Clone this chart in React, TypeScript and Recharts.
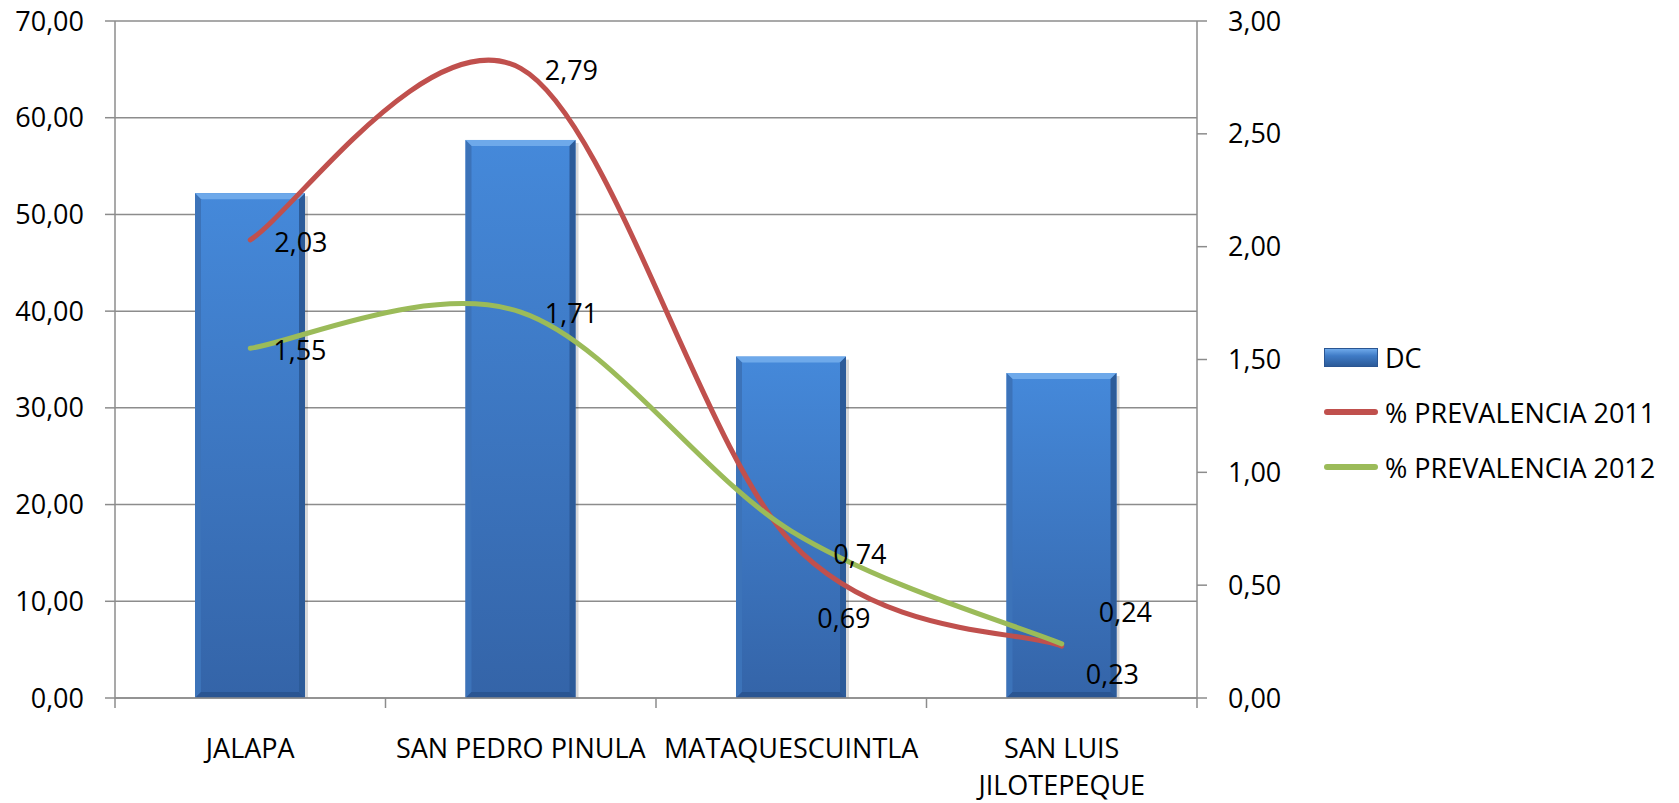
import { ComposedChart, Bar, Line, XAxis, YAxis, CartesianGrid, Legend } from "recharts";

const categories = ["JALAPA", "SAN PEDRO PINULA", "MATAQUESCUINTLA", "SAN LUIS JILOTEPEQUE"];
const tickLines = [["JALAPA"], ["SAN PEDRO PINULA"], ["MATAQUESCUINTLA"], ["SAN LUIS", "JILOTEPEQUE"]];
const dcValues = [52.2, 57.7, 35.3, 33.6];
const prev2011 = [2.03, 2.79, 0.69, 0.23];
const prev2012 = [1.55, 1.71, 0.74, 0.24];
const leftTicks = [0, 10, 20, 30, 40, 50, 60, 70];
const rightTicks = [0, 0.5, 1, 1.5, 2, 2.5, 3];

const seriesNames = ["DC", "% PREVALENCIA 2011", "% PREVALENCIA 2012"];
const RED = "#c0504d";
const GREEN = "#9bbb59";
const GRID = "#8c8c8c";
const FONT = "'Open Sans', sans-serif";

// label nudges (px) per point, as placed in the original
const labelOffsets2011 = [[24, 2], [24, 2], [26, 76], [24, 28]];
const labelOffsets2012 = [[23, 2], [24, 1], [42, 23], [37, -32]];

const data = categories.map((c, i) => ({
  name: c,
  dc: dcValues[i],
  p2011: prev2011[i],
  p2012: prev2012[i],
}));

const fmt = (v: number) => v.toFixed(2).replace(".", ",");

// Excel-like smoothed line (Catmull-Rom style bezier)
const excelCurve: any = (context: any) => {
  let pts: number[][] = [];
  return {
    areaStart() {},
    areaEnd() {},
    lineStart() {
      pts = [];
    },
    point(x: number, y: number) {
      pts.push([+x, +y]);
    },
    lineEnd() {
      const n = pts.length;
      if (!n) return;
      context.moveTo(pts[0][0], pts[0][1]);
      for (let i = 0; i < n - 1; i++) {
        const p0 = pts[Math.max(i - 1, 0)];
        const p1 = pts[i];
        const p2 = pts[i + 1];
        const p3 = pts[Math.min(i + 2, n - 1)];
        context.bezierCurveTo(
          p1[0] + (p2[0] - p0[0]) / 6,
          p1[1] + (p2[1] - p0[1]) / 6,
          p2[0] - (p3[0] - p1[0]) / 6,
          p2[1] - (p3[1] - p1[1]) / 6,
          p2[0],
          p2[1]
        );
      }
    },
  };
};

const BevelBar = (props: any) => {
  const { x, y, width: w, height: h, index } = props;
  if (!h || h <= 0) return null;
  const id = `dcGrad${index}`;
  const b = 6;
  return (
    <g>
      <defs>
        <linearGradient id={id} x1="0" y1="0" x2="0" y2="1">
          <stop offset="0%" stopColor="#4589da" />
          <stop offset="100%" stopColor="#3464a8" />
        </linearGradient>
      </defs>
      <rect x={x + 3} y={y + 3} width={w} height={h - 3} fill="rgba(0,0,0,0.15)" />
      <rect x={x} y={y} width={w} height={h} fill={`url(#${id})`} />
      <polygon points={`${x},${y} ${x + w},${y} ${x + w - b},${y + b} ${x + b},${y + b}`} fill="#6ea9ea" />
      <polygon points={`${x},${y} ${x + b},${y + b} ${x + b},${y + h - b} ${x},${y + h}`} fill="#3c73b9" />
      <polygon points={`${x + w},${y} ${x + w - b},${y + b} ${x + w - b},${y + h - b} ${x + w},${y + h}`} fill="#2c5b99" />
      <polygon points={`${x},${y + h} ${x + b},${y + h - b} ${x + w - b},${y + h - b} ${x + w},${y + h}`} fill="#2a5592" />
    </g>
  );
};

const makeLabel = (offsets: number[][]) => (props: any) => {
  const { x, y, value, index } = props;
  const [dx, dy] = offsets[index] || [24, 0];
  return (
    <text x={x + dx} y={y + dy} dy="0.36em" fontSize={27} fontFamily={FONT} fill="#000" textAnchor="start">
      {fmt(value)}
    </text>
  );
};

const PLOT_LEFT = 115;
const PLOT_RIGHT = 1197;
const BAND = (PLOT_RIGHT - PLOT_LEFT) / categories.length;

const CategoryTick = (props: any) => {
  const { x, y, index } = props;
  const lines = tickLines[index] || [];
  const last = index === categories.length - 1;
  return (
    <g>
      <line x1={x - BAND / 2} y1={y} x2={x - BAND / 2} y2={y + 10} stroke={GRID} strokeWidth={1.5} />
      {last && <line x1={x + BAND / 2} y1={y} x2={x + BAND / 2} y2={y + 10} stroke={GRID} strokeWidth={1.5} />}
      {lines.map((l, i) => (
        <text key={l} x={x} y={y + 60 + i * 37} textAnchor="middle" fontSize={27} fontFamily={FONT} fill="#000">
          {l}
        </text>
      ))}
    </g>
  );
};

const legendIcons = [
  <div key="dc" style={{ width: 54, height: 19, background: "linear-gradient(#6ea9ea, #3f7bc6 40%, #2c5b99)", border: "1px solid #2a5592", boxSizing: "border-box" }} />,
  <div key="r" style={{ width: 54, height: 6, borderRadius: 3, background: RED }} />,
  <div key="g" style={{ width: 54, height: 6, borderRadius: 3, background: GREEN }} />,
];

const CustomLegend = () => (
  <div style={{ fontFamily: FONT, fontSize: 27, color: "#000" }}>
    {seriesNames.map((n, i) => (
      <div key={n} style={{ display: "flex", alignItems: "center", height: 40, marginBottom: 15 }}>
        <div style={{ width: 61, display: "flex", alignItems: "center" }}>{legendIcons[i]}</div>
        <span style={{ whiteSpace: "nowrap" }}>{n}</span>
      </div>
    ))}
  </div>
);

export default function App() {
  return (
    <div style={{ position: "absolute", left: 0, top: 0, width: 1679, height: 803, background: "#fff" }}>
      <ComposedChart
        width={1679}
        height={803}
        data={data}
        margin={{ top: 21, right: 362, bottom: 0, left: 0 }}
        barSize={110}
        style={{ fontFamily: FONT }}
      >
        <CartesianGrid vertical={false} stroke={GRID} strokeWidth={1.5} yAxisId="l" />
        <XAxis
          dataKey="name"
          height={105}
          axisLine={{ stroke: GRID, strokeWidth: 1.5 }}
          tickLine={false}
          tickSize={0}
          tickMargin={0}
          interval={0}
          tick={<CategoryTick />}
        />
        <YAxis
          yAxisId="l"
          width={115}
          domain={[0, 70]}
          ticks={leftTicks}
          tickFormatter={fmt}
          axisLine={{ stroke: GRID, strokeWidth: 1.5 }}
          tickLine={{ stroke: GRID, strokeWidth: 1.5 }}
          tickSize={10}
          tickMargin={21}
          tick={{ fill: "#000", fontSize: 27, fontFamily: FONT }}
        />
        <YAxis
          yAxisId="r"
          orientation="right"
          width={120}
          domain={[0, 3]}
          ticks={rightTicks}
          tickFormatter={fmt}
          axisLine={{ stroke: GRID, strokeWidth: 1.5 }}
          tickLine={{ stroke: GRID, strokeWidth: 1.5 }}
          tickSize={10}
          tickMargin={21}
          tick={{ fill: "#000", fontSize: 27, fontFamily: FONT }}
        />
        <Bar yAxisId="l" dataKey="dc" name={seriesNames[0]} shape={<BevelBar />} isAnimationActive={false} />
        <Line
          yAxisId="r"
          dataKey="p2011"
          name={seriesNames[1]}
          type={excelCurve}
          stroke={RED}
          strokeWidth={5}
          strokeLinecap="round"
          dot={false}
          activeDot={false}
          label={makeLabel(labelOffsets2011)}
          isAnimationActive={false}
        />
        <Line
          yAxisId="r"
          dataKey="p2012"
          name={seriesNames[2]}
          type={excelCurve}
          stroke={GREEN}
          strokeWidth={5}
          strokeLinecap="round"
          dot={false}
          activeDot={false}
          label={makeLabel(labelOffsets2012)}
          isAnimationActive={false}
        />
        <Legend
          layout="horizontal"
          align="center"
          verticalAlign="middle"
          content={<CustomLegend />}
          wrapperStyle={{ left: 1324, top: 337, width: 355, height: 165 }}
        />
      </ComposedChart>
    </div>
  );
}
